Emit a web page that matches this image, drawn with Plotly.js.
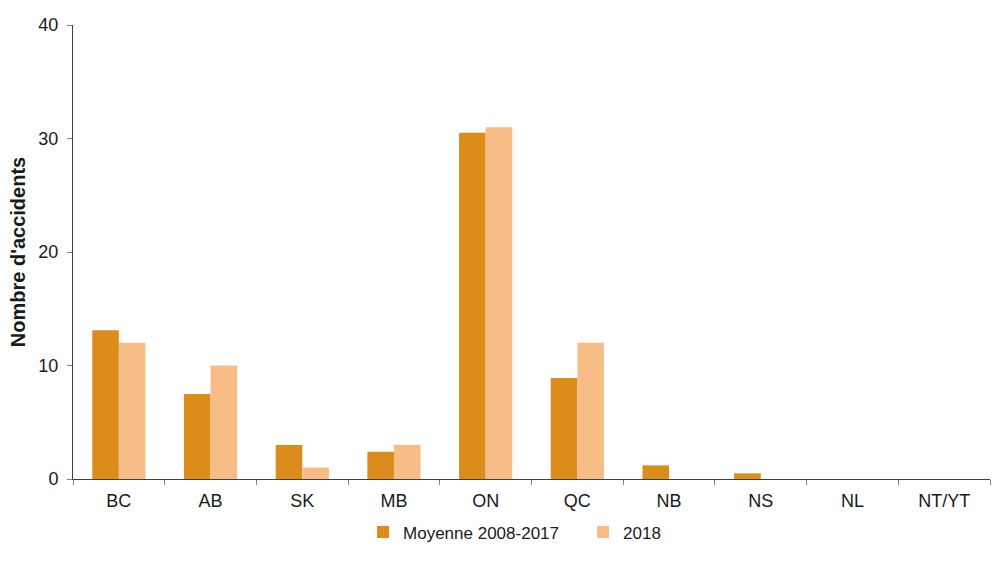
<!DOCTYPE html>
<html>
<head>
<meta charset="utf-8">
<script src="https://cdn.plot.ly/plotly-3.0.1.min.js"></script>
<style>
  html, body { margin: 0; padding: 0; background: #fff; }
  #chart { width: 1000px; height: 564px; }
</style>
</head>
<body>
<div id="chart"></div>
<script>
// Provinces and territories
const provinces = ["BC", "AB", "SK", "MB", "ON", "QC", "NB", "NS", "NL", "NT/YT"];
// Average number of accidents, 2008-2017
const moyenne = [13.1, 7.5, 3.0, 2.4, 30.5, 8.9, 1.2, 0.5, 0, 0];
// Number of accidents in 2018
const annee2018 = [12, 10, 1, 3, 31, 12, 0, 0, 0, 0];

const font = "Liberation Sans, Arial, sans-serif";
const ink = "#1a1a1a";

const traces = [
  {
    type: "bar",
    name: "Moyenne 2008-2017",
    x: provinces,
    y: moyenne,
    marker: { color: "#DB8C1A" },
    hoverinfo: "x+y"
  },
  {
    type: "bar",
    name: "2018",
    x: provinces,
    y: annee2018,
    marker: { color: "#F8BC87" },
    hoverinfo: "x+y"
  }
];

const layout = {
  width: 1000,
  height: 564,
  margin: { l: 73, r: 10, t: 25, b: 85 },
  paper_bgcolor: "#ffffff",
  plot_bgcolor: "#ffffff",
  font: { family: font, size: 17, color: ink },
  barmode: "group",
  bargap: 0.42,
  bargroupgap: 0,
  showlegend: true,
  legend: {
    orientation: "h",
    x: 0.3163,
    xanchor: "left",
    y: -0.078,
    yanchor: "top",
    font: { family: font, size: 17, color: ink },
    itemwidth: 30,
    entrywidth: 175,
    entrywidthmode: "pixels",
    tracegroupgap: 0
  },
  xaxis: {
    type: "category",
    showline: true,
    linecolor: "#404040",
    linewidth: 1,
    ticks: "outside",
    tickson: "boundaries",
    ticklen: 5,
    tickcolor: "#808080",
    showgrid: false,
    zeroline: false,
    ticklabelstandoff: 5,
    tickfont: { family: font, size: 18, color: ink }
  },
  yaxis: {
    range: [0, 40],
    tickvals: [0, 10, 20, 30, 40],
    showline: true,
    linecolor: "#404040",
    linewidth: 1,
    ticks: "outside",
    ticklen: 5,
    tickcolor: "#808080",
    showgrid: false,
    zeroline: false,
    ticklabelstandoff: 5,
    tickfont: { family: font, size: 18, color: ink },
    title: {
      text: "<b>Nombre d'accidents</b>",
      font: { family: font, size: 20, color: ink },
      standoff: 7
    }
  }
};

Plotly.newPlot("chart", traces, layout, { displayModeBar: false, staticPlot: true });
</script>
</body>
</html>
